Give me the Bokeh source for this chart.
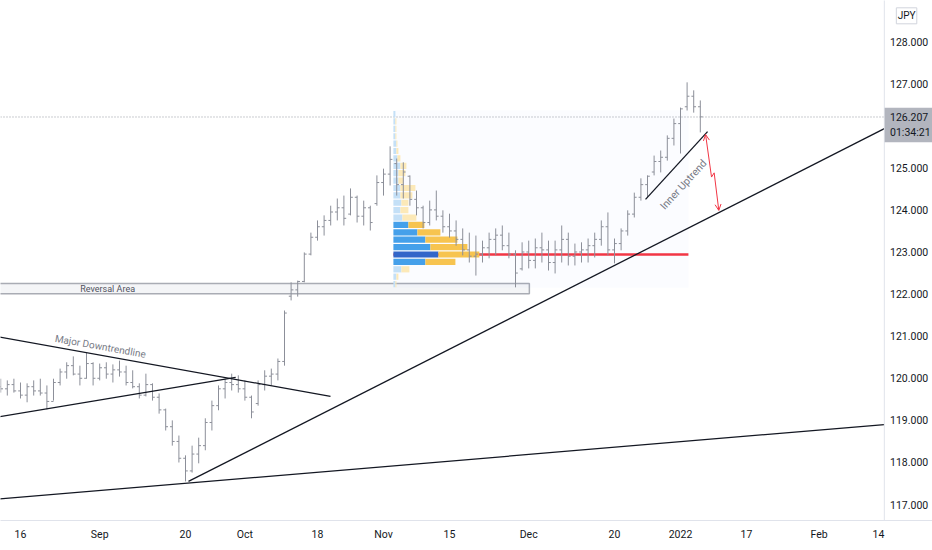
import numpy as np
from bokeh.plotting import figure
from bokeh.models import Range1d, FixedTicker, Arrow, OpenHead
from bokeh.core.properties import value
from bokeh.embed import file_html
from bokeh.resources import INLINE

# ---------------- data ----------------
# trading-day index 0 = 11 Aug 2021
day_index = list(range(107))
high = [119.99,119.95,119.99,119.90,119.88,119.95,119.99,119.83,119.99,120.23,
        120.38,120.52,120.30,120.61,120.38,120.35,120.38,120.33,120.42,120.30,
        120.19,119.88,120.11,119.88,119.64,119.28,119.00,118.64,118.17,118.40,
        118.59,119.05,119.47,119.83,119.99,120.11,120.07,119.95,119.59,119.95,
        120.19,120.23,120.47,121.61,122.28,122.32,122.99,123.46,123.75,123.87,
        124.10,124.27,124.34,124.51,124.34,124.22,124.10,124.82,124.98,125.51,
        125.22,125.13,124.82,124.46,124.10,124.22,124.46,123.99,123.91,123.75,
        123.56,123.46,123.39,123.27,123.46,123.56,123.63,123.46,123.04,123.23,
        123.27,123.32,123.46,123.27,123.27,123.63,123.46,123.20,123.23,123.32,
        123.46,123.75,123.94,123.32,123.56,123.99,124.41,124.75,124.82,125.29,
        125.41,125.77,126.17,126.43,127.03,126.84,126.60]
low = [119.66,119.59,119.66,119.52,119.43,119.59,119.59,119.26,119.47,119.83,
       119.99,120.07,119.83,119.99,119.83,119.95,119.99,119.90,120.04,119.83,
       119.76,119.52,119.57,119.47,119.16,118.76,118.40,118.00,117.55,117.76,
       117.98,118.29,118.76,119.24,119.52,119.71,119.66,119.47,119.05,119.35,
       119.71,119.83,119.95,120.30,121.85,121.94,122.28,122.92,123.27,123.39,
       123.63,123.75,123.63,123.87,123.70,123.63,123.51,124.10,124.34,124.58,
       124.34,124.27,124.10,123.87,123.56,123.63,123.75,123.46,123.34,123.15,
       122.92,122.75,122.44,122.75,122.85,122.92,123.04,122.85,122.16,122.56,
       122.61,122.61,122.75,122.56,122.49,122.75,122.68,122.68,122.75,122.75,
       122.87,123.15,122.92,122.73,123.04,123.39,123.82,124.22,124.29,124.82,
       124.89,125.17,125.53,125.34,126.36,126.31,125.84]
open_ = [119.80,119.75,119.85,119.70,119.60,119.80,119.70,119.65,119.45,119.90,
         120.15,120.30,120.10,120.00,120.35,120.00,120.25,120.10,120.20,120.15,
         119.90,119.80,119.60,119.85,119.55,119.25,118.85,118.50,118.10,117.80,
         118.20,118.40,118.95,119.35,119.75,119.90,119.85,119.75,119.55,119.40,
         119.85,120.05,120.10,120.40,121.95,122.10,122.30,122.95,123.35,123.60,
         123.75,123.95,124.05,123.90,124.30,123.85,124.05,124.15,124.65,124.85,
         125.10,124.60,124.80,124.25,124.05,123.70,124.00,123.85,123.60,123.50,
         123.30,123.05,122.90,122.95,123.10,123.30,123.40,123.15,122.95,122.60,
         123.00,122.80,123.10,123.05,122.75,123.05,123.30,122.90,123.00,123.05,
         123.15,123.30,123.60,123.05,123.20,123.50,123.90,124.30,124.60,124.90,
         125.15,125.25,125.70,126.05,126.45,126.70,126.45]
close = [119.75,119.85,119.70,119.60,119.80,119.70,119.65,119.45,119.90,120.15,
         120.30,120.10,120.00,120.35,120.00,120.25,120.10,120.20,120.15,119.90,
         119.80,119.60,119.85,119.55,119.25,118.85,118.50,118.10,117.80,118.20,
         118.40,118.95,119.35,119.75,119.90,119.85,119.75,119.55,119.20,119.85,
         120.05,120.10,120.40,121.55,122.10,122.30,122.95,123.35,123.60,123.75,
         123.95,124.05,123.80,124.30,123.85,124.05,123.70,124.65,124.85,125.20,
         124.60,124.90,124.25,124.05,123.70,124.00,123.85,123.60,123.50,123.30,
         123.05,122.90,122.95,123.10,123.30,123.40,123.15,122.95,122.50,123.00,
         122.80,123.10,123.05,122.75,123.05,123.30,122.90,123.00,123.05,123.15,
         123.30,123.60,123.05,123.20,123.50,123.90,124.30,124.60,124.80,125.15,
         125.25,125.70,126.05,126.40,126.70,126.45,126.21]

x_ticks = [3, 15, 28, 37, 48, 58, 68, 80, 93, 103, 113, 124, 133]
x_labels = ["16", "Sep", "20", "Oct", "18", "Nov", "15", "Dec", "20", "2022", "17", "Feb", "14"]
y_ticks = [117, 118, 119, 120, 121, 122, 123, 124, 125, 126, 127, 128]

last_price = 126.207
countdown = "01:34:21"
currency = "JPY"

# drawings (anchor points: trading-day index, price)
downtrend_x = [-2.0, 49.97]
downtrend_y = [121.03, 119.57]
channel_x = [-2.0, 35.6]
channel_y = [119.04, 120.02]
major_up_x = [28.45, 133.88]
major_up_y = [117.55, 125.93]
base_x = [-2.0, 133.88]
base_y = [117.11, 118.90]
inner_x = [97.7, 107.1]
inner_y = [124.25, 125.86]
arrow_x = [106.8, 107.7, 108.1, 108.8]
arrow_y = [125.79, 124.78, 124.88, 123.99]
reversal_x = [-2.0, 80.1]
reversal_y = [122.01, 122.25]

# fixed range volume profile
vp_x = [59.5, 104.2]
vp_low = 122.15
vp_row = 0.1756
vp_up = [2, 3, 8, 32, 45, 37, 32, 24, 15, 9, 7, 8, 7, 7, 5, 5, 7, 4, 3, 3, 2, 2, 2, 2]
vp_down = [1, 2, 8, 30, 41, 37, 32, 23, 16, 14, 8, 7, 12, 15, 5, 7, 6, 3, 2, 1, 1, 1, 1, 0]
vp_value_area = [3, 8]
vp_poc_row = 4
poc_price = 122.94

# ---------------- figure ----------------
FONT = "Roboto"
BAR = "#8c8f99"
RED = "#f23645"
INK = "#131722"
X_MIN, X_MAX = -0.03, 141.18
Y_MIN, Y_MAX = 116.622, 128.974
SCALE_EDGE = 133.88          # right border of the price pane

p = figure(frame_width=932, frame_height=520, output_backend="svg",
           toolbar_location=None, x_range=Range1d(X_MIN, X_MAX),
           y_range=Range1d(Y_MIN, Y_MAX), y_axis_location=None,
           min_border_left=0, min_border_top=0, min_border_right=0,
           min_border_bottom=30, background_fill_color="white",
           border_fill_color="white")
p.outline_line_color = None
p.grid.visible = False

xa = p.xaxis[0]
xa.ticker = FixedTicker(ticks=x_ticks, minor_ticks=[])
xa.major_label_overrides = {t: l for t, l in zip(x_ticks, x_labels)}
xa.axis_line_color = "#e0e3eb"
xa.major_tick_line_color = None
xa.minor_tick_line_color = None
xa.major_tick_out = 0
xa.major_tick_in = 0
xa.major_label_text_font = FONT
xa.major_label_text_font_size = "10.5px"
xa.major_label_text_color = INK
xa.major_label_standoff = 7

# last price dotted line
p.segment(x0=X_MIN, y0=last_price, x1=SCALE_EDGE, y1=last_price,
          line_color="#9598a1", line_dash="1 2", line_width=1)

# reversal area
p.quad(left=reversal_x[0], right=reversal_x[1], bottom=reversal_y[0], top=reversal_y[1],
       fill_color="#f4f5f7", line_color="#a9acb4", line_width=1.5)
p.text(x=[16.2], y=[(reversal_y[0] + reversal_y[1]) / 2],
       text=["Reversal Area"], text_font=value(FONT), text_font_size="9px",
       text_color="#50535e", text_align="center", text_baseline="middle")

# volume profile background and POC line
p.quad(left=vp_x[0], right=vp_x[1], bottom=vp_low, top=vp_low + vp_row * len(vp_up),
       fill_color="#2962ff", fill_alpha=0.02, line_color=None)
p.segment(x0=vp_x[0], y0=poc_price, x1=vp_x[1], y1=poc_price, line_color=RED, line_width=2.5)

scale = 1 / 6.6
rows = np.arange(len(vp_up))
bot = vp_low + rows * vp_row + vp_row * 0.08
top = vp_low + (rows + 1) * vp_row - vp_row * 0.08
up_len = np.array(vp_up) * scale
dn_len = np.array(vp_down) * scale
in_va = (rows >= vp_value_area[0]) & (rows <= vp_value_area[1])
up_col = np.where(in_va, "#45a0ea", "#c4e0f7")
up_col = np.where(rows == vp_poc_row, "#3266c9", up_col)
dn_col = np.where(in_va, "#f7c450", "#fce9b8")
p.quad(left=vp_x[0], right=vp_x[0] + up_len, bottom=bot, top=top,
       fill_color=list(up_col), line_color=None)
p.quad(left=vp_x[0] + up_len, right=vp_x[0] + up_len + dn_len, bottom=bot, top=top,
       fill_color=list(dn_col), line_color=None)

# OHLC bars
xi = np.array(day_index, dtype=float)
p.segment(x0=xi, y0=low, x1=xi, y1=high, line_color=BAR, line_width=1)
p.segment(x0=xi - 0.35, y0=open_, x1=xi, y1=open_, line_color=BAR, line_width=1)
p.segment(x0=xi, y0=close, x1=xi + 0.35, y1=close, line_color=BAR, line_width=1)

# trend lines
for lx, ly in ((downtrend_x, downtrend_y), (channel_x, channel_y),
               (major_up_x, major_up_y), (base_x, base_y), (inner_x, inner_y)):
    p.line(lx, ly, line_color=INK, line_width=1.3)

p.text(x=[15.1], y=[120.76], text=["Major Downtrendline"], angle=-0.177,
       text_font=value(FONT), text_font_size="10px", text_color="#787b86",
       text_align="center", text_baseline="middle")
p.text(x=[103.45], y=[124.60], text=["Inner Uptrend"], angle=0.83,
       text_font=value(FONT), text_font_size="10.5px", text_color="#787b86",
       text_align="center", text_baseline="middle")

# red zig-zag arrow
p.line(arrow_x, arrow_y, line_color=RED, line_width=1)
p.add_layout(Arrow(end=OpenHead(size=6, line_color=RED, line_width=1),
                   x_start=arrow_x[1], y_start=arrow_y[1], x_end=arrow_x[0], y_end=arrow_y[0],
                   line_color=RED, line_alpha=0))
p.add_layout(Arrow(end=OpenHead(size=6, line_color=RED, line_width=1),
                   x_start=arrow_x[2], y_start=arrow_y[2], x_end=arrow_x[3], y_end=arrow_y[3],
                   line_color=RED, line_alpha=0))

# ---- price scale pane (right) ----
p.quad(left=SCALE_EDGE, right=X_MAX + 1, bottom=Y_MIN - 1, top=Y_MAX + 1,
       fill_color="white", line_color=None)
p.segment(x0=SCALE_EDGE, y0=Y_MIN - 1, x1=SCALE_EDGE, y1=Y_MAX + 1,
          line_color="#e0e3eb", line_width=1)
p.text(x=[134.75] * len(y_ticks), y=y_ticks, text=[f"{t:.3f}" for t in y_ticks],
       text_font=value(FONT), text_font_size="10.5px", text_color=INK,
       text_align="left", text_baseline="middle")
# last price tag
p.quad(left=SCALE_EDGE + 0.05, right=X_MAX + 1, bottom=last_price - 0.60, top=last_price + 0.22,
       fill_color="#b2b5be", line_color=None)
p.text(x=[134.75, 134.75], y=[last_price, last_price - 0.38], text=[f"{last_price:.3f}", countdown],
       text_font=value(FONT), text_font_size="10.5px", text_color=INK,
       text_align="left", text_baseline="middle")
# currency badge
p.quad(left=135.7, right=138.8, bottom=128.42, top=128.80,
       fill_color="white", line_color="#d1d4dc", line_width=1)
p.text(x=[137.25], y=[128.61], text=[currency], text_font=value(FONT),
       text_font_size="10px", text_color=INK, text_align="center", text_baseline="middle")

open("out.html", "w").write(file_html(p, INLINE))
